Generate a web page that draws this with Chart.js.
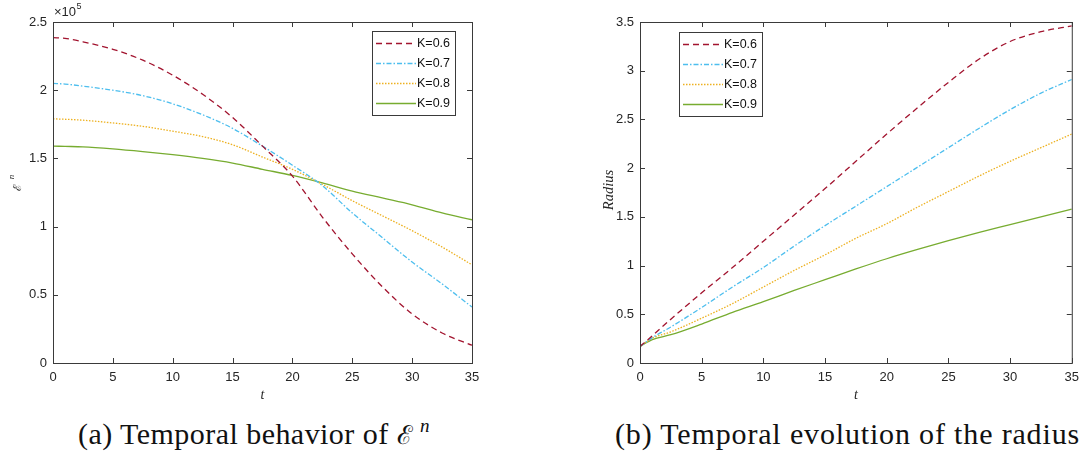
<!DOCTYPE html>
<html>
<head>
<meta charset="utf-8">
<script src="https://cdn.jsdelivr.net/npm/chart.js@4.4.0/dist/chart.umd.min.js"></script>
<style>
  body { margin: 0; background: #fff; width: 1086px; height: 456px; position: relative; overflow: hidden; }
  canvas { position: absolute; top: 0; }
  #c1 { left: 0; }
  #c2 { left: 560px; }
  .cap { position: absolute; top: 416px; line-height: 36px; font-family: 'Liberation Serif', serif; font-size: 30px; color: #111; white-space: nowrap; }
  .cap .sc { font-family: 'DejaVu Serif', serif; font-style: normal; font-size: 26px; }
  .cap sup { font-size: 19px; font-style: italic; vertical-align: 12px; line-height: 0; margin-left: 7px; }
  #capA { left: 78px; }
  #capB { left: 615px; }
</style>
</head>
<body>
<canvas id="c1" width="520" height="400"></canvas>
<canvas id="c2" width="526" height="400"></canvas>
<div class="cap" id="capA">(a) Temporal behavior of <span class="sc">ℰ</span><sup>n</sup></div>
<div class="cap" id="capB">(b) Temporal evolution of the radius</div>
<script>
// time grid shared by all curves
const tValues = [0, 1, 2.5, 5, 7.5, 10, 12.5, 15, 17.5, 20, 22.5, 25, 27.5, 30, 32.5, 35];
const seriesLabels = ['K=0.6', 'K=0.7', 'K=0.8', 'K=0.9'];

// (a) energy E^n
const energyK06 = [238500, 238000, 235500, 230000, 222000, 211000, 197000, 180000, 159000, 137000, 107000, 80000, 56000, 36000, 22000, 13000];
const energyK07 = [205000, 204500, 203000, 200000, 196000, 190000, 182000, 172000, 159000, 145000, 130000, 110000, 92000, 74000, 58000, 41000];
const energyK08 = [179000, 178700, 178000, 176000, 173500, 170000, 166000, 160000, 151000, 142000, 131000, 119000, 108000, 97000, 85000, 72000];
const energyK09 = [159000, 158800, 158500, 157000, 155000, 152700, 150000, 146600, 142000, 137500, 132000, 126000, 121000, 116000, 110000, 105000];

// (b) radius
const radiusK06 = [0.17, 0.28, 0.45, 0.72, 0.98, 1.25, 1.52, 1.79, 2.07, 2.35, 2.62, 2.88, 3.12, 3.30, 3.40, 3.46];
const radiusK07 = [0.17, 0.26, 0.37, 0.57, 0.78, 0.98, 1.20, 1.41, 1.61, 1.81, 2.01, 2.21, 2.41, 2.60, 2.77, 2.91];
const radiusK08 = [0.17, 0.255, 0.32, 0.46, 0.61, 0.78, 0.95, 1.11, 1.28, 1.43, 1.60, 1.76, 1.92, 2.07, 2.21, 2.35];
const radiusK09 = [0.17, 0.24, 0.29, 0.40, 0.52, 0.63, 0.745, 0.855, 0.965, 1.07, 1.165, 1.255, 1.34, 1.42, 1.50, 1.58];

const xTicks = [0, 5, 10, 15, 20, 25, 30, 35];

const lineColors = ['#A2142F', '#4DBEEE', '#EDB120', '#77AC30'];
const lineDashes = [[6, 4], [5, 2, 1.5, 2], [1.5, 1.5], []];

Chart.defaults.font.family = "'Liberation Sans', Arial, sans-serif";
Chart.defaults.font.size = 13;
Chart.defaults.color = '#262626';

function makeDatasets(seriesList) {
    return seriesList.map((vals, i) => ({
        label: seriesLabels[i],
        data: tValues.map((t, j) => ({ x: t, y: vals[j] })),
        borderColor: lineColors[i],
        borderDash: lineDashes[i],
        borderWidth: 1.3,
        pointRadius: 0,
        fill: false,
        cubicInterpolationMode: 'monotone'
    }));
}

// box frame with inward ticks, legend and axis labels
const framePlugin = {
    id: 'frame',
    afterDraw(chart, args, opts) {
        const ctx = chart.ctx;
        const a = chart.chartArea;
        const xs = chart.scales.x, ys = chart.scales.y;
        ctx.save();
        ctx.strokeStyle = '#3a3a3a';
        ctx.lineWidth = 1;
        ctx.setLineDash([]);
        ctx.strokeRect(a.left + 0.5, a.top + 0.5, a.right - a.left, a.bottom - a.top);
        ctx.beginPath();
        xs.ticks.forEach(tk => {
            const px = Math.round(xs.getPixelForValue(tk.value)) + 0.5;
            ctx.moveTo(px, a.bottom); ctx.lineTo(px, a.bottom - 5);
            ctx.moveTo(px, a.top); ctx.lineTo(px, a.top + 5);
        });
        ys.ticks.forEach(tk => {
            const py = Math.round(ys.getPixelForValue(tk.value)) + 0.5;
            ctx.moveTo(a.left, py); ctx.lineTo(a.left + 5, py);
            ctx.moveTo(a.right, py); ctx.lineTo(a.right - 5, py);
        });
        ctx.stroke();

        // legend
        const lx = opts.legendX, ly = opts.legendY;
        ctx.fillStyle = '#fff';
        ctx.fillRect(lx, ly, 83, 84);
        ctx.strokeStyle = '#3a3a3a';
        ctx.strokeRect(lx + 0.5, ly + 0.5, 83, 84);
        ctx.font = "12.5px 'Liberation Sans', Arial, sans-serif";
        ctx.textBaseline = 'middle';
        chart.data.datasets.forEach((ds, i) => {
            const ry = ly + 12.5 + i * 20;
            ctx.strokeStyle = ds.borderColor;
            ctx.lineWidth = 1.3;
            ctx.setLineDash(ds.borderDash);
            ctx.beginPath();
            ctx.moveTo(lx + 4, ry); ctx.lineTo(lx + 44, ry);
            ctx.stroke();
            ctx.setLineDash([]);
            ctx.fillStyle = '#111';
            ctx.fillText(ds.label, lx + 45, ry + 0.5);
        });

        // axis titles
        ctx.fillStyle = '#262626';
        ctx.font = "italic 14px 'Liberation Serif', serif";
        ctx.textAlign = 'center';
        ctx.fillText('t', (a.left + a.right) / 2, a.bottom + 32);
        ctx.save();
        ctx.translate(opts.yTitleX, opts.yTitleY);
        ctx.rotate(-Math.PI / 2);
        if (opts.yTitle === 'E') {
            ctx.font = "11px 'DejaVu Serif', serif";
            ctx.fillText('ℰ', -3, 0);
            ctx.font = "italic 9px 'Liberation Serif', serif";
            ctx.fillText('n', 7, -6);
        } else {
            ctx.font = "italic 14.5px 'Liberation Serif', serif";
            ctx.fillText(opts.yTitle, 0, 0);
        }
        ctx.restore();

        if (opts.exponent) {
            ctx.textAlign = 'left';
            ctx.font = "13px 'Liberation Sans', Arial, sans-serif";
            const base = '×10';
            ctx.fillText(base, a.left + 1, a.top - 10);
            const w = ctx.measureText(base).width;
            ctx.font = "9px 'Liberation Sans', Arial, sans-serif";
            ctx.fillText('5', a.left + 1 + w + 0.5, a.top - 15);
        }
        ctx.restore();
    }
};

function makeChart(canvasId, datasets, yMax, yStep, yWidth, rightPad, tickFmt, frameOpts) {
    return new Chart(document.getElementById(canvasId), {
        type: 'line',
        data: { datasets },
        options: {
            responsive: false,
            animation: false,
            layout: { padding: { top: 22, right: rightPad, left: 0, bottom: 0 } },
            plugins: { legend: { display: false }, tooltip: { enabled: false }, frame: frameOpts },
            scales: {
                x: {
                    type: 'linear', min: 0, max: 35,
                    afterBuildTicks: s => { s.ticks = xTicks.map(v => ({ value: v })); },
                    grid: { display: false, drawTicks: false },
                    border: { display: false },
                    ticks: { padding: 7, maxRotation: 0 },
                    afterFit: s => { s.height = 37; }
                },
                y: {
                    min: 0, max: yMax,
                    ticks: { stepSize: yStep, padding: 6, callback: tickFmt },
                    grid: { display: false, drawTicks: false },
                    border: { display: false },
                    afterFit: s => { s.width = yWidth; }
                }
            }
        },
        plugins: [framePlugin]
    });
}

makeChart('c1', makeDatasets([energyK06, energyK07, energyK08, energyK09]), 250000, 50000, 53, 48,
    v => String(Math.round(v / 1e4) / 10),
    { legendX: 372, legendY: 31, yTitle: 'E', yTitleX: 18, yTitleY: 184, exponent: true });

makeChart('c2', makeDatasets([radiusK06, radiusK07, radiusK08, radiusK09]), 3.5, 0.5, 80, 12,
    v => String(v),
    { legendX: 119, legendY: 32, yTitle: 'Radius', yTitleX: 49, yTitleY: 190, exponent: false });

// stretch the captions to the width they take in the figure
[['capA', 352], ['capB', 465]].forEach(([id, target]) => {
    const el = document.getElementById(id);
    const n = el.textContent.length;
    const w = el.getBoundingClientRect().width;
    el.style.letterSpacing = ((target - w) / n) + 'px';
});
</script>
</body>
</html>
